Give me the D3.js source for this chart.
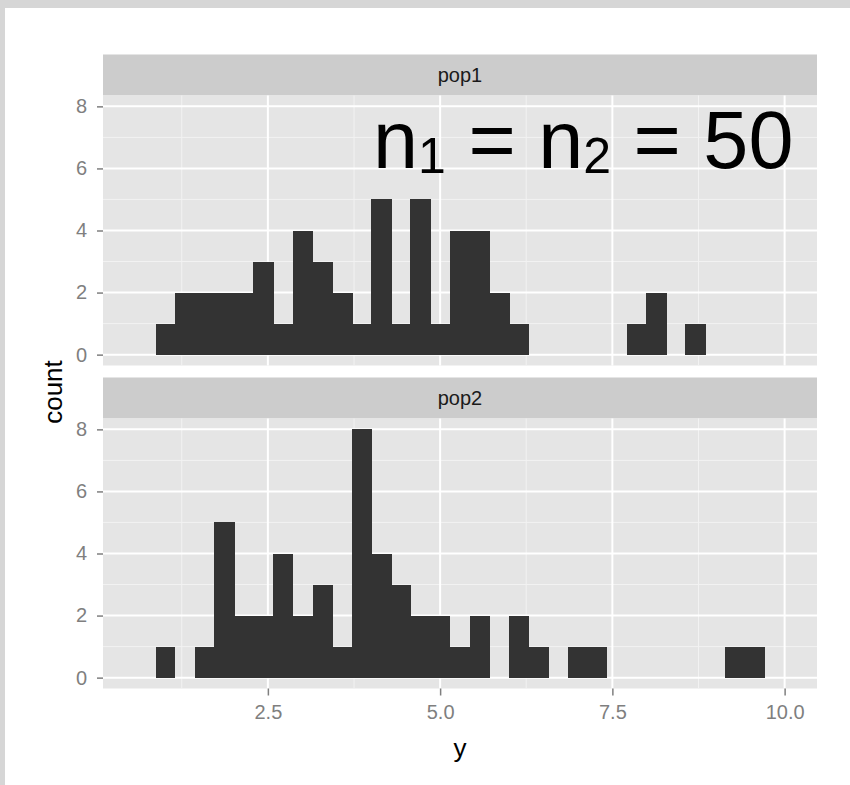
<!DOCTYPE html>
<html>
<head>
<meta charset="utf-8">
<script src="https://d3js.org/d3.v7.min.js"></script>
<style>
  body { margin: 0; background: #fff; }
  text { font-family: "Liberation Sans", Arial, Helvetica, sans-serif; }
</style>
</head>
<body>
<div id="chart"></div>
<script>
// bin edges shared by both facets (31 bins)
const binEdges = [0.87, 1.15, 1.44, 1.72, 2.01, 2.29, 2.58, 2.86, 3.15, 3.43, 3.72,
                  4.00, 4.29, 4.57, 4.86, 5.14, 5.43, 5.71, 6.00, 6.28, 6.57, 6.85,
                  7.14, 7.42, 7.71, 7.99, 8.28, 8.56, 8.85, 9.13, 9.42, 9.70];
const pop1Counts = [1, 2, 2, 2, 2, 3, 1, 4, 3, 2, 1, 5, 1, 5, 1, 4, 4, 2, 1, 0, 0, 0, 0, 0, 1, 2, 0, 1, 0, 0, 0];
const pop2Counts = [1, 0, 1, 5, 2, 2, 4, 2, 3, 1, 8, 4, 3, 2, 2, 1, 2, 0, 2, 1, 0, 1, 1, 0, 0, 0, 0, 0, 0, 1, 1];
const facetNames = ["pop1", "pop2"];
const xTicks = [2.5, 5.0, 7.5, 10.0];
const xMinor = [1.25, 3.75, 6.25, 8.75];
const yTicks = [0, 2, 4, 6, 8];
const yMinor = [1, 3, 5, 7];

const W = 850, H = 785;
const panelLeft = 103, panelRight = 817;
const stripH = 41, panelH = 270, gap = 12, top0 = 54.5;

const svg = d3.select("#chart").append("svg")
    .attr("width", W)
    .attr("height", H);

// white page with grey frame at top/left
svg.append("rect").attr("width", W).attr("height", H).attr("fill", "#fff");
svg.append("rect").attr("width", W).attr("height", 8).attr("fill", "#d6d6d6");
svg.append("rect").attr("width", 5).attr("height", H).attr("fill", "#d6d6d6");

const x = d3.scaleLinear().domain([0.107, 10.47]).range([panelLeft, panelRight]);

const series = [pop1Counts, pop2Counts];

series.forEach((counts, k) => {
    const stripTop = top0 + k * (stripH + panelH + gap);
    const pTop = stripTop + stripH;
    const pBottom = pTop + panelH;
    const y = d3.scaleLinear().domain([-0.35, 8.35]).range([pBottom, pTop]);

    // strip
    svg.append("rect")
       .attr("x", panelLeft).attr("y", stripTop)
       .attr("width", panelRight - panelLeft).attr("height", stripH)
       .attr("fill", "#cccccc");
    svg.append("text")
       .attr("x", (panelLeft + panelRight) / 2)
       .attr("y", stripTop + stripH / 2)
       .attr("dy", "0.35em")
       .attr("text-anchor", "middle")
       .attr("font-size", 20)
       .attr("fill", "#1a1a1a")
       .text(facetNames[k]);

    // panel background + grid
    const g = svg.append("g");
    g.append("rect")
     .attr("x", panelLeft).attr("y", pTop)
     .attr("width", panelRight - panelLeft).attr("height", panelH)
     .attr("fill", "#e5e5e5");

    g.selectAll(".ymin").data(yMinor).enter().append("line")
     .attr("x1", panelLeft).attr("x2", panelRight)
     .attr("y1", d => y(d)).attr("y2", d => y(d))
     .attr("stroke", "#f2f2f2").attr("stroke-width", 1);
    g.selectAll(".xmin").data(xMinor).enter().append("line")
     .attr("y1", pTop).attr("y2", pBottom)
     .attr("x1", d => x(d)).attr("x2", d => x(d))
     .attr("stroke", "#f2f2f2").attr("stroke-width", 1);
    g.selectAll(".ymaj").data(yTicks).enter().append("line")
     .attr("x1", panelLeft).attr("x2", panelRight)
     .attr("y1", d => y(d)).attr("y2", d => y(d))
     .attr("stroke", "#fff").attr("stroke-width", 2);
    g.selectAll(".xmaj").data(xTicks).enter().append("line")
     .attr("y1", pTop).attr("y2", pBottom)
     .attr("x1", d => x(d)).attr("x2", d => x(d))
     .attr("stroke", "#fff").attr("stroke-width", 2);

    // bars (crisp edges so neighbouring bins merge without seams)
    g.selectAll(".bar").data(counts).enter().append("rect")
     .attr("class", "bar")
     .attr("x", (d, i) => x(binEdges[i]))
     .attr("width", (d, i) => x(binEdges[i + 1]) - x(binEdges[i]) + 0.6)
     .attr("y", d => y(d))
     .attr("height", d => y(0) - y(d))
     .attr("fill", "#333333")
     .attr("shape-rendering", "crispEdges");

    // y axis
    const yAxis = d3.axisLeft(y).tickValues(yTicks).tickSize(6).tickPadding(10).tickFormat(d3.format("d"));
    const ya = svg.append("g")
       .attr("transform", `translate(${panelLeft},0)`)
       .call(yAxis);
    ya.select(".domain").remove();
    ya.selectAll("line").attr("stroke", "#7f7f7f").attr("stroke-width", 1.5);
    ya.selectAll("text").attr("fill", "#7f7f7f").attr("font-size", 20)
      .attr("font-family", "Liberation Sans, Arial, sans-serif");

    if (k === series.length - 1) {
        const xAxis = d3.axisBottom(x).tickValues(xTicks).tickSize(7).tickPadding(9).tickFormat(d3.format(".1f"));
        const xa = svg.append("g")
           .attr("transform", `translate(0,${pBottom})`)
           .call(xAxis);
        xa.select(".domain").remove();
        xa.selectAll("line").attr("stroke", "#7f7f7f").attr("stroke-width", 1.5);
        xa.selectAll("text").attr("fill", "#7f7f7f").attr("font-size", 20)
          .attr("font-family", "Liberation Sans, Arial, sans-serif");
    }
});

// axis titles
svg.append("text")
   .attr("x", (panelLeft + panelRight) / 2)
   .attr("y", 757)
   .attr("text-anchor", "middle")
   .attr("font-size", 26)
   .text("y");

svg.append("text")
   .attr("transform", "translate(62,392) rotate(-90)")
   .attr("text-anchor", "middle")
   .attr("font-size", 26)
   .text("count");

// annotation  n1 = n2 = 50
const note = svg.append("text")
   .attr("x", 373)
   .attr("y", 168)
   .attr("font-size", 81)
   .attr("fill", "#000")
   .style("white-space", "pre");
note.append("tspan").text("n");
note.append("tspan").attr("font-size", 50).attr("dy", 5).text("1");
note.append("tspan").attr("dy", -5).text(" = n");
note.append("tspan").attr("font-size", 50).attr("dy", 5).text("2");
note.append("tspan").attr("dy", -5).text(" = 50");
</script>
</body>
</html>
